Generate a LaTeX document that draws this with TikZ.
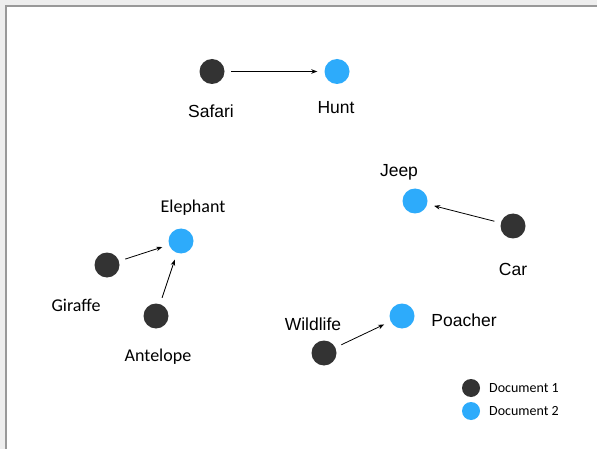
\documentclass[tikz,border=0pt]{standalone}
\usepackage{fontspec}
\setmainfont{Liberation Sans}
\newfontfamily\calib{Carlito}
\usetikzlibrary{arrows.meta}
\definecolor{docone}{HTML}{333333}
\definecolor{doctwo}{HTML}{2DABFB}
\definecolor{pagebg}{HTML}{EEEEEE}
\definecolor{frameline}{HTML}{999999}
\tikzset{
  dotone/.style={circle,fill=docone,minimum size=25pt,inner sep=0pt},
  dottwo/.style={circle,fill=doctwo,minimum size=25pt,inner sep=0pt},
  legone/.style={circle,fill=docone,minimum size=18pt,inner sep=0pt},
  legtwo/.style={circle,fill=doctwo,minimum size=18pt,inner sep=0pt},
  lbla/.style={font=\fontsize{17.5}{20}\selectfont,inner sep=0pt},
  lblb/.style={font=\calib\fontsize{18}{21}\selectfont,inner sep=0pt},
  lgd/.style={font=\calib\fontsize{14}{16}\selectfont,inner sep=0pt,anchor=west},
  link/.style={-{Stealth[length=6pt,width=4.5pt]},line width=0.8pt,black,shorten <=6.5pt,shorten >=7pt}
}
\begin{document}
\begin{tikzpicture}[x=1pt,y=-1pt]
\useasboundingbox (0,0) rectangle (597,449);
\fill[pagebg] (0,0) rectangle (597,449);
\fill[white] (6,6) rectangle (597,449);
\draw[frameline,line width=1.5pt] (6,449) -- (6,6) -- (597,6);

% nodes
\node[dotone] (safari) at (212,71.5) {};
\node[dottwo] (hunt) at (337,71.5) {};
\node[dottwo] (elephant) at (181,241) {};
\node[dotone] (giraffe) at (107,265) {};
\node[dotone] (antelope) at (156,316) {};
\node[dottwo] (jeep) at (415,201) {};
\node[dotone] (car) at (513,226) {};
\node[dotone] (wildlife) at (324,353) {};
\node[dottwo] (poacher) at (402,316) {};

% labels
\node[lbla] (lsafari) at (211,111) {Safari};
\node[lbla] (lhunt) at (336,108) {Hunt};
\node[lblb] (lelephant) at (193,208) {Elephant};
\node[lblb] (lgiraffe) at (76,305) {Giraffe};
\node[lblb] (lantelope) at (158,357) {Antelope};
\node[lbla] (ljeep) at (399,172) {Jeep};
\node[lbla] (lcar) at (513,269) {Car};
\node[lbla] (lwildlife) at (313,324) {Wildlife};
\node[lbla] (lpoacher) at (464,320) {Poacher};

% connectors
\draw[link] (safari) -- (hunt);
\draw[link] (giraffe) -- (elephant);
\draw[link] (antelope) -- (elephant);
\draw[link] (car) -- (jeep);
\draw[link] (wildlife) -- (poacher);

% legend
\node[legone] (legdone) at (471,388) {};
\node[legtwo] (legdtwo) at (471,411) {};
\node[lgd] (legtone) at (489,388) {Document 1};
\node[lgd] (legttwo) at (489,411) {Document 2};
\end{tikzpicture}
\end{document}
